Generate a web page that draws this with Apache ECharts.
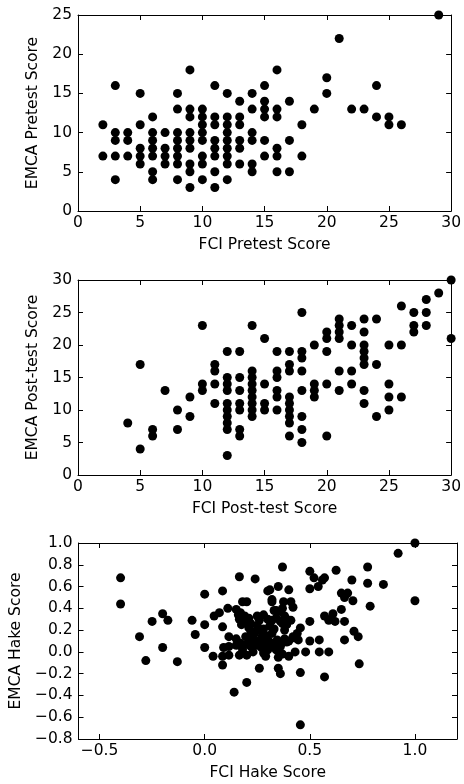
<!DOCTYPE html>
<html>
<head>
<meta charset="utf-8">
<script src="https://cdn.jsdelivr.net/npm/echarts@6/dist/echarts.min.js"></script>
<style>
  html, body { margin: 0; padding: 0; background: #fff; }
  #main { width: 464px; height: 784px; }
</style>
</head>
<body>
<div id="main"></div>
<script>
// FCI pretest vs EMCA pretest
var pretestPoints = [
  [2,11],[2,7],
  [3,16],[3,10],[3,9],[3,7],[3,4],
  [4,10],[4,9],[4,7],
  [5,15],[5,11],[5,8],[5,7],[5,6],
  [6,12],[6,10],[6,9],[6,8],[6,7],[6,5],[6,4],
  [7,10],[7,8],[7,7],[7,6],
  [8,15],[8,13],[8,10],[8,9],[8,8],[8,7],[8,6],[8,4],
  [9,18],[9,13],[9,12],[9,10],[9,9],[9,8],[9,6],[9,5],[9,3],
  [10,13],[10,12],[10,11],[10,10],[10,9],[10,7],[10,6],[10,4],
  [11,16],[11,12],[11,11],[11,9],[11,8],[11,7],[11,5],[11,3],
  [12,15],[12,12],[12,11],[12,10],[12,9],[12,8],[12,7],[12,6],[12,4],
  [13,14],[13,12],[13,11],[13,9],[13,8],[13,6],
  [14,15],[14,13],[14,10],[14,9],[14,6],[14,5],
  [15,16],[15,14],[15,13],[15,12],[15,9],[15,7],
  [16,18],[16,13],[16,12],[16,8],[16,7],[16,5],
  [17,14],[17,9],[17,5],
  [18,11],[18,7],
  [19,13],
  [20,17],[20,15],
  [21,22],[22,13],[23,13],
  [24,16],[24,12],
  [25,12],[25,11],
  [26,11],[29,25]
];

// FCI post-test vs EMCA post-test
var posttestPoints = [
  [4,8],[5,17],[5,4],[6,7],[6,6],[7,13],[8,10],[8,7],[9,12],[9,9],
  [10,23],[10,14],[10,13],
  [11,17],[11,16],[11,14],[11,11],
  [12,19],[12,15],[12,14],[12,13],[12,11],[12,10],[12,9],[12,8],[12,7],[12,3],
  [13,19],[13,15],[13,13],[13,11],[13,10],[13,7],[13,6],
  [14,23],[14,16],[14,15],[14,14],[14,13],[14,12],[14,11],[14,10],[14,9],
  [15,21],[15,14],[15,11],[15,10],
  [16,19],[16,16],[16,15],[16,13],[16,12],[16,10],
  [17,19],[17,17],[17,16],[17,12],[17,11],[17,10],[17,9],[17,8],[17,6],
  [18,25],[18,19],[18,18],[18,16],[18,13],[18,9],[18,7],[18,5],
  [19,20],[19,14],[19,13],[19,12],
  [20,22],[20,21],[20,19],[20,14],[20,6],
  [21,24],[21,23],[21,22],[21,21],[21,16],[21,13],
  [22,23],[22,20],[22,16],[22,14],
  [23,24],[23,22],[23,20],[23,19],[23,18],[23,17],[23,13],[23,11],
  [24,24],[24,17],[24,9],
  [25,20],[25,14],[25,12],[25,10],
  [26,26],[26,20],[26,12],
  [27,25],[27,23],[27,22],
  [28,27],[28,25],[28,23],
  [29,28],[30,30],[30,21]
];

// FCI Hake gain vs EMCA Hake gain
var hakePoints = [
  [-0.40,0.68],[-0.40,0.44],[-0.31,0.14],[-0.28,-0.08],[-0.25,0.28],[-0.20,0.35],[-0.20,0.04],
  [-0.175,0.29],[-0.13,-0.09],[-0.06,0.29],[-0.045,0.16],
  [0.0,0.53],[0.0,0.25],[0.0,0.04],[0.04,-0.04],[0.045,0.33],[0.07,0.36],[0.085,0.56],[0.085,0.23],
  [0.09,0.04],[0.085,-0.04],[0.085,-0.12],[0.11,0.40],[0.115,0.14],[0.115,0.05],[0.115,-0.03],
  [0.14,-0.37],[0.15,0.39],[0.15,0.06],[0.16,0.34],[0.165,0.30],[0.165,0.69],[0.165,-0.03],
  [0.18,0.46],[0.175,0.25],[0.18,0.02],[0.195,0.14],[0.20,0.46],[0.20,0.07],[0.20,-0.03],[0.20,-0.28],
  [0.21,0.31],[0.21,0.22],[0.22,0.12],[0.22,0.26],[0.23,0.0],[0.235,0.09],[0.24,0.67],[0.24,0.18],
  [0.25,0.33],[0.25,0.06],[0.26,0.20],[0.26,-0.15],[0.27,0.13],[0.27,0.04],[0.28,0.34],[0.28,0.21],
  [0.28,-0.01],[0.29,0.07],[0.29,-0.04],[0.30,0.56],[0.30,0.11],[0.31,0.57],[0.31,0.09],[0.32,0.48],
  [0.32,0.46],[0.32,0.17],[0.32,0.29],[0.33,0.05],[0.34,0.31],[0.345,0.11],[0.35,0.60],[0.35,-0.05],
  [0.35,-0.15],[0.36,-0.20],[0.36,0.37],[0.365,0.08],[0.37,0.78],[0.37,0.40],[0.375,0.46],[0.38,0.33],
  [0.39,0.25],[0.39,0.30],[0.39,0.09],[0.40,0.57],[0.40,-0.04],[0.41,0.46],[0.42,0.41],[0.42,0.14],
  [0.425,0.13],[0.43,0.0],[0.44,0.17],[0.445,0.11],[0.455,0.22],[0.455,-0.19],[0.455,-0.67],[0.48,0.0],
  [0.50,0.74],[0.50,0.58],[0.50,0.28],[0.50,0.10],[0.52,0.68],[0.54,0.60],[0.545,0.11],[0.545,0.0],
  [0.56,0.66],[0.57,0.68],[0.57,0.33],[0.57,-0.23],[0.59,0.29],[0.59,0.0],[0.61,0.35],[0.62,0.28],
  [0.625,0.75],[0.65,0.54],[0.65,0.39],[0.665,0.50],[0.665,0.28],[0.665,0.11],[0.68,0.54],[0.70,0.66],
  [0.705,0.47],[0.71,0.19],[0.73,0.14],[0.735,-0.11],[0.775,0.78],[0.775,0.63],[0.787,0.42],[0.85,0.62],
  [0.92,0.905],[1.0,1.0],[1.0,0.47],
  [0.17,0.36],[0.19,0.33],[0.20,0.27],[0.22,0.19],[0.23,0.15],[0.24,0.10],[0.25,0.24],[0.26,0.29],
  [0.27,0.09],[0.29,0.15],[0.30,0.02],[0.31,0.24],[0.33,0.21],[0.34,0.38],[0.37,0.26],[0.38,0.12],
  [0.36,0.05],[0.41,0.29],[0.15,0.12],[0.17,0.08],[0.22,0.05],[0.30,0.30],[0.33,0.38],[0.36,0.28],
  [0.38,0.20],[0.40,0.10],[0.34,0.02],[0.37,-0.02]
];

var hakeXTicks = [-0.5, 0.0, 0.5, 1.0];

var FONT = 'DejaVu Sans';
var FS = 15.5;
var labelStyle = { color: '#000', fontFamily: FONT, fontSize: FS };
var nameStyle = { color: '#000', fontFamily: FONT, fontSize: FS };
var frameLine = { show: true, onZero: false, lineStyle: { color: '#000', width: 1 } };

function fmtHake(v) {
  if (Math.abs(v) < 1e-9) return '0.0';
  var s = v.toFixed(1);
  return s.charAt(0) === '-' ? '\u2212' + s.slice(1) : s;
}

// main axis with labels and ticks pointing inward
function mainX(gi, name, min, max, extra) {
  var ax = {
    type: 'value', gridIndex: gi, position: 'bottom', min: min, max: max,
    name: name, nameLocation: 'middle', nameGap: 26,
    nameTextStyle: nameStyle,
    axisLine: frameLine,
    axisTick: { show: true, inside: true, length: 5, lineStyle: { color: '#000' } },
    axisLabel: Object.assign({ margin: 4 }, labelStyle),
    splitLine: { show: false }
  };
  return Object.assign(ax, extra || {});
}
function mainY(gi, name, min, max, gap, extra) {
  var ax = {
    type: 'value', gridIndex: gi, position: 'left', min: min, max: max,
    name: name, nameLocation: 'middle', nameGap: gap,
    nameTextStyle: nameStyle,
    axisLine: frameLine,
    axisTick: { show: true, inside: true, length: 5, lineStyle: { color: '#000' } },
    axisLabel: Object.assign({ margin: 6 }, labelStyle),
    splitLine: { show: false }
  };
  return Object.assign(ax, extra || {});
}
// mirror axes for top / right ticks
function mirror(base, pos) {
  var ax = Object.assign({}, base);
  ax.position = pos;
  ax.name = '';
  ax.axisLabel = { show: false };
  ax.axisTick = Object.assign({}, base.axisTick);
  return ax;
}

var grids = [
  { left: 78, right: 7, top: 15, height: 196 },
  { left: 78, right: 7, top: 280, height: 195 },
  { left: 78, right: 7, top: 543, height: 196 }
];

var x0 = mainX(0, 'FCI Pretest Score', 0, 30, { interval: 5 });
var x1 = mainX(1, 'FCI Post-test Score', 0, 30, { interval: 5 });
var x2 = mainX(2, 'FCI Hake Score', -0.6, 1.2, {});
x2.axisTick = Object.assign({}, x2.axisTick, { customValues: hakeXTicks });
x2.axisLabel = Object.assign({}, x2.axisLabel, { customValues: hakeXTicks, formatter: fmtHake });

var y0 = mainY(0, 'EMCA Pretest Score', 0, 25, 34, { interval: 5 });
var y1 = mainY(1, 'EMCA Post-test Score', 0, 30, 34, { interval: 5 });
var y2 = mainY(2, 'EMCA Hake Score', -0.8, 1.0, 52, { interval: 0.2 });
y2.axisLabel = Object.assign({}, y2.axisLabel, { formatter: fmtHake });

var myChart = echarts.init(document.getElementById('main'));
var option = {
  animation: false,
  backgroundColor: '#fff',
  grid: grids,
  xAxis: [x0, x1, x2, mirror(x0, 'top'), mirror(x1, 'top'), mirror(x2, 'top')],
  yAxis: [y0, y1, y2, mirror(y0, 'right'), mirror(y1, 'right'), mirror(y2, 'right')],
  series: [pretestPoints, posttestPoints, hakePoints].map(function (d, i) {
    return {
      type: 'scatter', xAxisIndex: i, yAxisIndex: i, data: d,
      symbolSize: 9, clip: true,
      itemStyle: { color: '#000', opacity: 1 }
    };
  })
};
myChart.setOption(option);
</script>
</body>
</html>
